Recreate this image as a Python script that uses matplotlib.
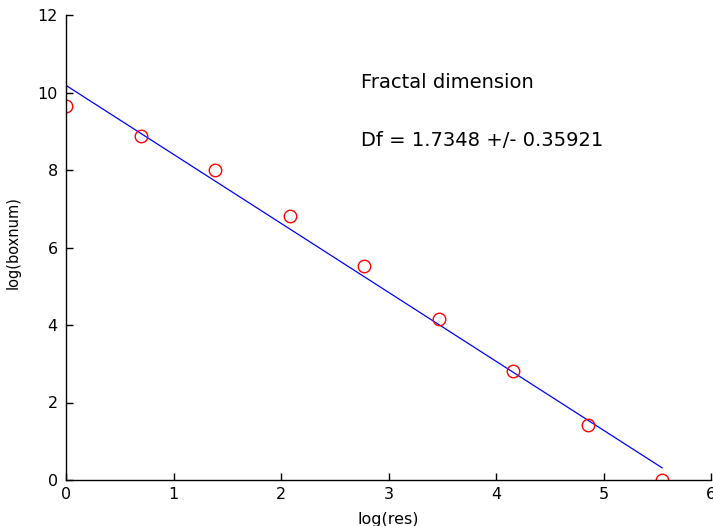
import numpy as np
import matplotlib
matplotlib.use("Agg")
import matplotlib.pyplot as plt

plt.rcParams['font.family'] = ['DejaVu Sans']

log_res = [0.0, 0.6931, 1.3863, 2.0794, 2.7726, 3.4657, 4.1589, 4.8520, 5.5452]
log_boxnum = [9.65, 8.88, 8.0, 6.81, 5.52, 4.15, 2.81, 1.42, 0.0]
xticks = [0, 1, 2, 3, 4, 5, 6]
yticks = [0, 2, 4, 6, 8, 10, 12]
title_text = "Fractal dimension"
df_text = "Df = 1.7348 +/- 0.35921"

fig = plt.figure(figsize=(7.13, 5.26), dpi=100)
ax = fig.add_axes([66/713, 46/526, (711-66)/713, (480-15)/526])

x = np.array(log_res)
y = np.array(log_boxnum)
p = np.polyfit(x, y, 1)
xl = np.array([x.min(), x.max()])
ax.plot(xl, np.polyval(p, xl), color='#0000ff', lw=0.9)
ax.plot(x, y, 'o', mfc='none', mec='#ff0000', ms=9, mew=1.0)

ax.set_xlim(0, 6)
ax.set_ylim(0, 12)
ax.set_xticks(xticks)
ax.set_yticks(yticks)
ax.spines['top'].set_visible(False)
ax.spines['right'].set_visible(False)
for s in ['left', 'bottom']:
    ax.spines[s].set_linewidth(1.0)
ax.tick_params(direction='in', length=5, width=1.0, labelsize=11.5)
ax.tick_params(axis='y', pad=6)
ax.tick_params(axis='x', pad=5)
ax.set_xlabel('log(res)', fontsize=11.5, labelpad=7)
ax.set_ylabel('log(boxnum)', fontsize=10.5)
ax.yaxis.set_label_coords(-0.07, 0.51)
ax.patch.set_visible(False)

ax.text(2.744, 10.25, title_text, fontsize=14, va='center', ha='left')
ax.text(2.744, 8.77, df_text, fontsize=14, va='center', ha='left')

fig.savefig('out.png', dpi=100)
